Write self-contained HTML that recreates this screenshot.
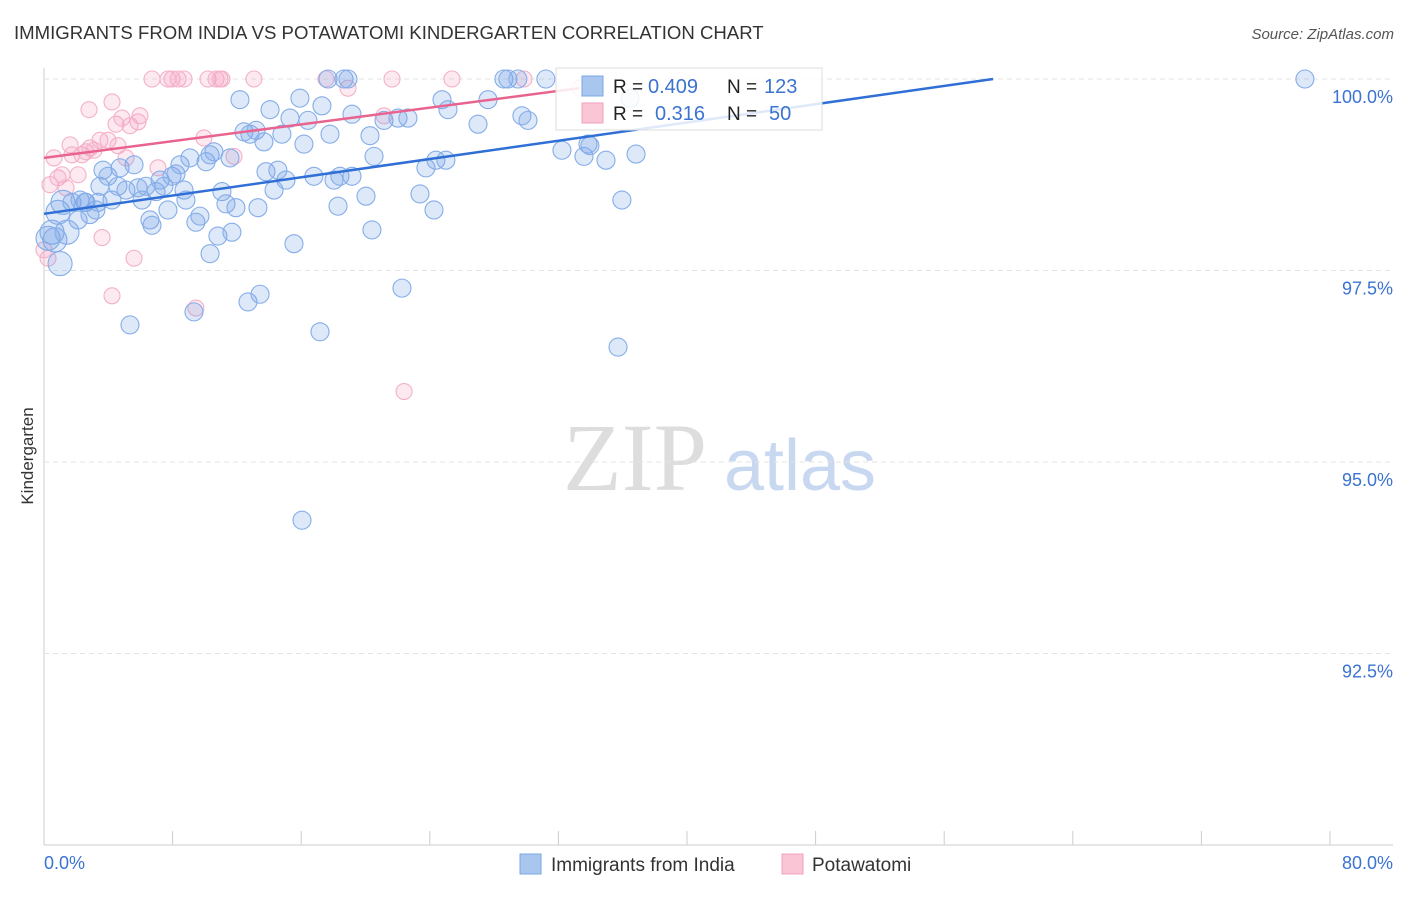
<!DOCTYPE html>
<html><head><meta charset="utf-8"><style>
body{margin:0;background:#fff;font-family:"Liberation Sans",sans-serif}
</style></head><body>
<svg id="c" width="1406" height="892" xmlns="http://www.w3.org/2000/svg">
<text x="14" y="39" font-size="18.6" fill="#333">IMMIGRANTS FROM INDIA VS POTAWATOMI KINDERGARTEN CORRELATION CHART</text>
<text x="1394" y="39" font-size="15" fill="#555" font-style="italic" text-anchor="end">Source: ZipAtlas.com</text>
<text x="33" y="456" font-size="17" fill="#333" transform="rotate(-90 33 456)" text-anchor="middle">Kindergarten</text>
<g><text x="635" y="490" font-size="96" fill="#ddd" text-anchor="middle" font-family="Liberation Serif">ZIP</text><text x="800" y="490" font-size="72" fill="#c8d8f0" text-anchor="middle">atlas</text></g>
<g id="grid"></g><g id="pts"></g><g id="trend"></g>
<g>
<rect x="556" y="68" width="266" height="62" fill="#fff" fill-opacity="0.85" stroke="#ddd"/>
<rect x="582" y="76" width="21" height="20" fill="#a9c6ef" stroke="#7aa7e6"/>
<rect x="582" y="103" width="21" height="20" fill="#fac6d6" stroke="#f2a3bd"/>
<text x="613" y="93" font-size="19" fill="#222">R =</text><text x="648" y="93" font-size="20" fill="#3b73d1">0.409</text>
<text x="727" y="93" font-size="19" fill="#222">N =</text><text x="764" y="93" font-size="20" fill="#3b73d1">123</text>
<text x="613" y="120" font-size="19" fill="#222">R =</text><text x="655" y="120" font-size="20" fill="#3b73d1">0.316</text>
<text x="727" y="120" font-size="19" fill="#222">N =</text><text x="769" y="120" font-size="20" fill="#3b73d1">50</text>
</g>
<g>
<rect x="520" y="854" width="21" height="20" fill="#a9c6ef" stroke="#7aa7e6"/>
<text x="551" y="871" font-size="19" fill="#333">Immigrants from India</text>
<rect x="782" y="854" width="21" height="20" fill="#fac6d6" stroke="#f2a3bd"/>
<text x="812" y="871" font-size="19" fill="#333">Potawatomi</text>
</g>
</svg>
<script>
const yTicks=[100,97.5,95,92.5];
const yTickLabels=["100.0%","97.5%","95.0%","92.5%"];
const xTicks=[0,8,16,24,32,40,48,56,64,72,80];
const blueX=[0.50,0.68,0.25,1.00,0.87,1.43,1.18,1.74,2.12,2.55,2.86,3.23,3.48,3.67,3.98,4.23,4.60,4.73,5.10,5.60,5.35,5.85,6.10,6.34,6.59,6.72,6.97,7.22,7.46,7.71,7.96,8.21,8.46,8.71,8.83,9.08,9.45,9.70,10.08,10.33,10.57,10.82,11.07,11.32,11.57,11.69,11.94,12.19,12.44,12.69,12.81,13.19,13.31,13.44,13.68,13.81,14.06,14.31,14.55,14.80,15.05,15.30,15.55,15.92,16.17,16.42,16.05,16.79,17.17,17.29,17.67,17.79,18.04,18.29,18.41,18.66,18.91,19.16,19.16,20.03,20.28,20.40,20.53,21.15,22.02,22.27,22.64,23.39,23.76,24.26,24.38,24.76,25.00,25.13,27.00,27.62,28.61,28.86,29.48,29.73,30.11,31.22,32.22,33.59,33.84,33.96,34.96,35.71,35.95,36.45,36.83,78.44,10.33,9.33,3.36,2.24,2.61];
const blueY=[98.00,97.90,97.92,97.59,98.26,98.00,98.39,98.39,98.16,98.39,98.23,98.29,98.60,98.81,98.73,98.42,98.60,98.84,98.55,98.88,96.79,98.58,98.42,98.60,98.16,98.09,98.53,98.68,98.60,98.29,98.73,98.76,98.88,98.55,98.42,98.97,98.13,98.21,98.92,99.01,99.05,97.95,98.53,98.37,98.97,98.00,98.32,99.73,99.31,97.09,99.28,99.33,98.32,97.19,99.18,98.79,99.60,98.55,98.81,99.28,98.68,99.49,97.85,99.75,99.15,99.46,94.24,98.73,96.70,99.65,100,99.28,98.68,98.34,98.73,100,100,98.73,99.54,98.47,99.26,98.03,98.99,99.46,99.49,97.27,99.49,98.50,98.84,98.29,98.94,99.73,98.94,99.60,99.41,99.73,100,100,100,99.52,99.46,100,99.07,98.99,99.15,99.13,98.94,96.50,98.42,99.75,99.02,100,97.72,96.96,98.39,98.42,98.39];
const pinkX=[0.37,0.62,0.87,1.12,1.37,1.62,1.74,2.12,2.36,2.61,2.80,2.86,3.11,3.48,3.61,3.98,4.23,4.23,4.48,4.60,4.85,5.10,5.35,5.60,5.85,5.97,6.72,7.09,7.71,7.96,8.34,8.71,9.45,9.95,10.20,10.70,10.95,11.07,11.82,13.06,17.54,18.91,21.15,21.65,22.40,25.38,0.25,0.0,29.86,33.34];
const pinkY=[98.62,98.97,98.71,98.75,98.58,99.14,99.01,98.75,99.01,99.05,99.60,99.10,99.07,99.20,97.93,99.20,99.70,97.17,99.41,99.13,99.49,98.97,99.39,97.66,99.44,99.52,100,98.84,100,100,100,100,97.01,99.23,100,100,100,100,98.99,100,100,99.88,99.52,100,95.92,100,97.66,97.77,100,99.88];
const blueTrend=[[0,98.24],[59.04,100]];
const pinkTrend=[[0,98.97],[33.3,99.88]];
const X=v=>44+v*(1286/80), Y=v=>79+(100-v)*76.6;
const NS="http://www.w3.org/2000/svg";
function mk(t,a,p){const e=document.createElementNS(NS,t);for(const k in a)e.setAttribute(k,a[k]);p.appendChild(e);return e;}
const g=document.getElementById('grid');
const ax=mk('line',{x1:44,y1:68,x2:44,y2:845,stroke:'#ccc'},g);

const bx=mk('line',{x1:44,y1:845,x2:1393,y2:845,stroke:'#ccc'},g);

yTicks.forEach((v,i)=>{const l=mk('line',{x1:44,y1:Y(v),x2:1393,y2:Y(v),stroke:'#e3e3e3','stroke-dasharray':'5,4'},g);

const t=mk('text',{x:1393,y:Y(v)+24,'font-size':18,fill:'#3b73d1','text-anchor':'end'},g);t.textContent=yTickLabels[i];
});
xTicks.forEach(v=>{const l=mk('line',{x1:X(v),y1:831,x2:X(v),y2:845,stroke:'#ccc'},g);
});
const x0=mk('text',{x:44,y:869,'font-size':18,fill:'#3b73d1'},g);x0.textContent='0.0%';

const x1=mk('text',{x:1393,y:869,'font-size':18,fill:'#3b73d1','text-anchor':'end'},g);x1.textContent='80.0%';

const p=document.getElementById('pts');
pinkX.forEach((v,i)=>{const c=mk('circle',{cx:X(v),cy:Y(pinkY[i]),r:8,fill:'rgba(245,160,190,0.22)',stroke:'#f4b0c8','stroke-width':1.1},p);
});
blueX.forEach((v,i)=>{const r=v<1.5?12:9;const c=mk('circle',{cx:X(v),cy:Y(blueY[i]),r:r,fill:'rgba(120,165,230,0.25)',stroke:'#85ade8','stroke-width':1.1},p);
});
const tr=document.getElementById('trend');
const bl=mk('line',{x1:X(blueTrend[0][0]),y1:Y(blueTrend[0][1]),x2:X(blueTrend[1][0]),y2:Y(blueTrend[1][1]),stroke:'#2f6fd6','stroke-width':2.5},tr);

const pl=mk('line',{x1:X(pinkTrend[0][0]),y1:Y(pinkTrend[0][1]),x2:X(pinkTrend[1][0]),y2:Y(pinkTrend[1][1]),stroke:'#e8648f','stroke-width':2.5},tr);

</script>
</body></html>
